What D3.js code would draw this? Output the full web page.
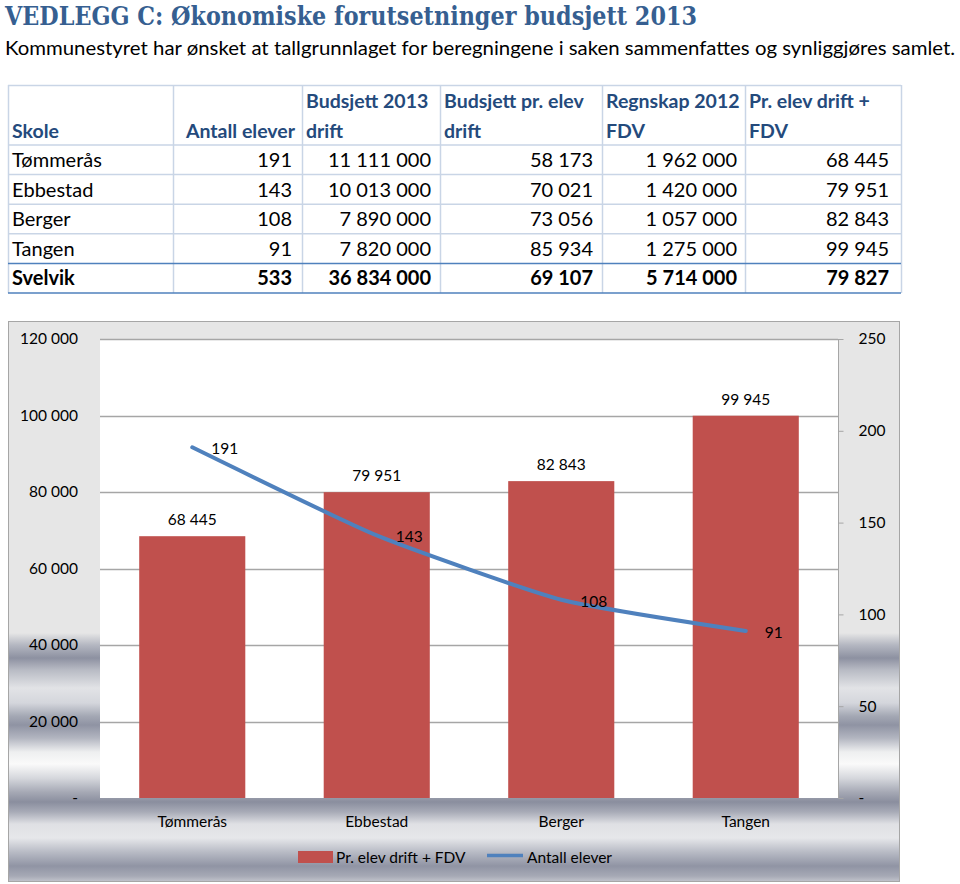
<!DOCTYPE html>
<html><head><meta charset="utf-8">
<script src="https://cdn.jsdelivr.net/npm/d3@7"></script>
<style>html,body{margin:0;padding:0;background:#fff;}svg{display:block;}</style>
</head><body>
<svg id="c" width="960" height="884"></svg>
<script>
// ---------- data ----------
const titleText = "VEDLEGG C: Økonomiske forutsetninger budsjett 2013";
const subtitleText = "Kommunestyret har ønsket at tallgrunnlaget for beregningene i saken sammenfattes og synliggjøres samlet.";
const headerLine1 = ["", "", "Budsjett 2013", "Budsjett pr. elev", "Regnskap 2012", "Pr. elev drift +"];
const headerLine2 = ["Skole", "Antall elever", "drift", "drift", "FDV", "FDV"];
const schools = ["Tømmerås", "Ebbestad", "Berger", "Tangen"];
const antallElever = [191, 143, 108, 91];
const budsjett2013 = [11111000, 10013000, 7890000, 7820000];
const budsjettPrElev = [58173, 70021, 73056, 85934];
const regnskap2012 = [1962000, 1420000, 1057000, 1275000];
const prElevFDV = [68445, 79951, 82843, 99945];
const totalLabel = "Svelvik";
const totalValues = [533, 36834000, 69107, 5714000, 79827];
const leftTicks = [0, 20000, 40000, 60000, 80000, 100000, 120000];
const rightTicks = [0, 50, 100, 150, 200, 250];
const legendLabels = ["Pr. elev drift + FDV", "Antall elever"];

// ---------- helpers ----------
const loc = d3.formatLocale({decimal: ",", thousands: "\u00a0", grouping: [3], currency: ["", ""]});
const fmt = v => v === 0 ? "-" : loc.format(",d")(v);
const svg = d3.select("#c");
const FONT = "Lato, 'Open Sans', sans-serif";

// ---------- title ----------
svg.append("text").attr("x", 5).attr("y", 25)
  .attr("font-family", "'DejaVu Serif', serif").attr("font-weight", "bold")
  .attr("font-size", 26).attr("fill", "#365f91")
  .attr("textLength", 692).attr("lengthAdjust", "spacingAndGlyphs")
  .text(titleText);
svg.append("text").attr("x", 5).attr("y", 55)
  .attr("font-family", FONT)
  .attr("font-size", 19.5).attr("fill", "#000")
  .attr("textLength", 950).attr("lengthAdjust", "spacingAndGlyphs")
  .text(subtitleText);

// ---------- table ----------
const colEdges = [8, 173, 302, 440, 602, 745, 901];
const headTop = 85, headBot = 145, rowH = 29.6;
const rows = schools.map((s, i) => [s, antallElever[i], budsjett2013[i], budsjettPrElev[i], regnskap2012[i], prElevFDV[i]]);
const allRows = rows.concat([[totalLabel].concat(totalValues)]);
const tbl = svg.append("g");
const bodyBot = headBot + rowH * allRows.length;
const lineCol = "#c9d5e6";
colEdges.forEach(x => tbl.append("line").attr("x1", x + 0.5).attr("x2", x + 0.5)
  .attr("y1", headTop).attr("y2", bodyBot).attr("stroke", lineCol).attr("stroke-width", 1.5));
d3.range(allRows.length + 1).forEach(i => {
  const y = headBot + i * rowH;
  const dark = i >= allRows.length - 1;
  tbl.append("line").attr("x1", 8).attr("x2", 901).attr("y1", y).attr("y2", y)
    .attr("stroke", dark ? "#4f81bd" : lineCol).attr("stroke-width", 1.5);
});
tbl.append("line").attr("x1", 8).attr("x2", 901).attr("y1", headTop + 0.5).attr("y2", headTop + 0.5)
  .attr("stroke", lineCol).attr("stroke-width", 1.5);
headerLine1.forEach((t, j) => {
  const right = j === 1;
  const x = right ? colEdges[j + 1] - 7 : colEdges[j] + 4;
  const anchor = right ? "end" : "start";
  if (t) tbl.append("text").attr("x", x).attr("y", 108).attr("text-anchor", anchor)
    .attr("font-family", FONT).attr("font-weight", "bold").attr("font-size", 19.5).attr("fill", "#244a7c").text(t);
  tbl.append("text").attr("x", x).attr("y", 138).attr("text-anchor", anchor)
    .attr("font-family", FONT).attr("font-weight", "bold").attr("font-size", 19.5).attr("fill", "#244a7c").text(headerLine2[j]);
});
const rightEdges = [null, 292, 431, 593, 737, 889];
allRows.forEach((r, i) => {
  const y = headBot + i * rowH + 22;
  const bold = i === allRows.length - 1;
  r.forEach((v, j) => {
    tbl.append("text").attr("x", j === 0 ? 12 : rightEdges[j]).attr("y", y)
      .attr("text-anchor", j === 0 ? "start" : "end")
      .attr("font-family", FONT).attr("font-weight", bold ? "bold" : "normal")
      .attr("font-size", 20).attr("fill", "#000")
      .text(j === 0 ? v : fmt(v));
  });
});

// ---------- chart ----------
const defs = svg.append("defs");
const cTop = 321, cBot = 882;
const grad = defs.append("linearGradient").attr("id", "chrome")
  .attr("gradientUnits", "userSpaceOnUse").attr("x1", 0).attr("x2", 0).attr("y1", cTop).attr("y2", cBot);
[[321, "#e6e6e6"], [633, "#e6e6e6"], [645, "#b4b7c1"], [658, "#8d91a1"], [670, "#b8bbc4"], [688, "#e2e3e6"],
 [703, "#d4d6dc"], [716, "#a4a8b4"], [725, "#8f93a3"], [738, "#b2b5c0"], [752, "#eeeff0"], [764, "#fafafa"],
 [778, "#d6d8dd"], [792, "#a6a9b5"], [802, "#8a8e9e"], [812, "#a8abb7"], [824, "#dfe0e4"], [838, "#e6e7ea"],
 [852, "#b8bbc5"], [866, "#9094a4"], [876, "#a6a9b5"], [882, "#c4c6ce"]]
 .forEach(([y, c]) => grad.append("stop").attr("offset", (y - cTop) / (cBot - cTop)).attr("stop-color", c));

svg.append("rect").attr("x", 8.5).attr("y", cTop + 0.5).attr("width", 891).attr("height", cBot - cTop - 1)
  .attr("fill", "url(#chrome)").attr("stroke", "#a6a6a6").attr("stroke-width", 1);

const pL = 100, pR = 838, pT = 339, pB = 798;
svg.append("rect").attr("x", pL).attr("y", pT).attr("width", pR - pL).attr("height", pB - pT).attr("fill", "#fff");

const x = d3.scaleBand().domain(schools).range([pL, pR]).paddingInner(0.425).paddingOuter(0.2125);
const yL = d3.scaleLinear().domain([0, 120000]).range([pB, pT]);
const yR = d3.scaleLinear().domain([0, 250]).range([pB, pT]);

svg.append("g").selectAll("line").data(leftTicks.filter(d => d > 0)).join("line")
  .attr("x1", pL).attr("x2", pR).attr("y1", d => Math.round(yL(d)) + 0.5).attr("y2", d => Math.round(yL(d)) + 0.5)
  .attr("stroke", "#a6a6a6").attr("stroke-width", 1.3);

svg.append("g").selectAll("rect").data(prElevFDV).join("rect")
  .attr("x", (d, i) => x(schools[i])).attr("width", x.bandwidth())
  .attr("y", d => yL(d)).attr("height", d => yL(0) - yL(d)).attr("fill", "#c0504d");

svg.append("g").selectAll("text").data(prElevFDV).join("text")
  .attr("x", (d, i) => x(schools[i]) + x.bandwidth() / 2).attr("y", d => yL(d) - 11)
  .attr("text-anchor", "middle").attr("font-family", FONT).attr("font-size", 15.5).attr("fill", "#000")
  .text(d => fmt(d));

const axL = d3.axisLeft(yL).tickValues(leftTicks).tickSize(0).tickPadding(0).tickFormat(fmt);
const gL = svg.append("g").attr("transform", `translate(78,0)`).call(axL);
gL.select(".domain").remove();
gL.selectAll("text").attr("font-family", FONT).attr("font-size", 15.5).attr("fill", "#000");

const axR = d3.axisRight(yR).tickValues(rightTicks).tickSize(5).tickPadding(15).tickFormat(fmt);
const gR = svg.append("g").attr("transform", `translate(${pR + 0.5},0)`).call(axR);
gR.select(".domain").attr("stroke", "#a6a6a6").attr("d", `M0,${pT}V${pB}`);
gR.selectAll(".tick line").attr("stroke", "#a6a6a6");
gR.selectAll("text").attr("font-family", FONT).attr("font-size", 15.5).attr("fill", "#000");

const axB = d3.axisBottom(x).tickSize(0).tickPadding(0);
const gB = svg.append("g").attr("transform", `translate(0,${pB})`).call(axB);
gB.select(".domain").remove();
gB.selectAll("text").attr("font-family", FONT).attr("font-size", 15.5).attr("fill", "#000")
  .attr("dy", null).attr("y", 23).attr("dominant-baseline", "central");

const pts = antallElever.map((v, i) => [x(schools[i]) + x.bandwidth() / 2, yR(v)]);
svg.append("path").attr("d", d3.line().curve(d3.curveCardinal.tension(0.5))(pts))
  .attr("fill", "none").attr("stroke", "#4f81bd").attr("stroke-width", 4).attr("stroke-linecap", "round");
svg.append("g").selectAll("text").data(antallElever).join("text")
  .attr("x", (d, i) => pts[i][0] + 19).attr("y", (d, i) => pts[i][1] + 1)
  .attr("dominant-baseline", "central").attr("font-family", FONT).attr("font-size", 15.5).attr("fill", "#000")
  .text(d => fmt(d));

const lg = svg.append("g");
lg.append("rect").attr("x", 298).attr("y", 851).attr("width", 35).attr("height", 12).attr("fill", "#c0504d");
lg.append("text").attr("x", 336).attr("y", 857).attr("dominant-baseline", "central")
  .attr("font-family", FONT).attr("font-size", 15.5).attr("fill", "#000").text(legendLabels[0]);
lg.append("line").attr("x1", 487).attr("x2", 523).attr("y1", 855.5).attr("y2", 855.5)
  .attr("stroke", "#4f81bd").attr("stroke-width", 3.5);
lg.append("text").attr("x", 527).attr("y", 857).attr("dominant-baseline", "central")
  .attr("font-family", FONT).attr("font-size", 15.5).attr("fill", "#000").text(legendLabels[1]);
</script>
</body></html>
